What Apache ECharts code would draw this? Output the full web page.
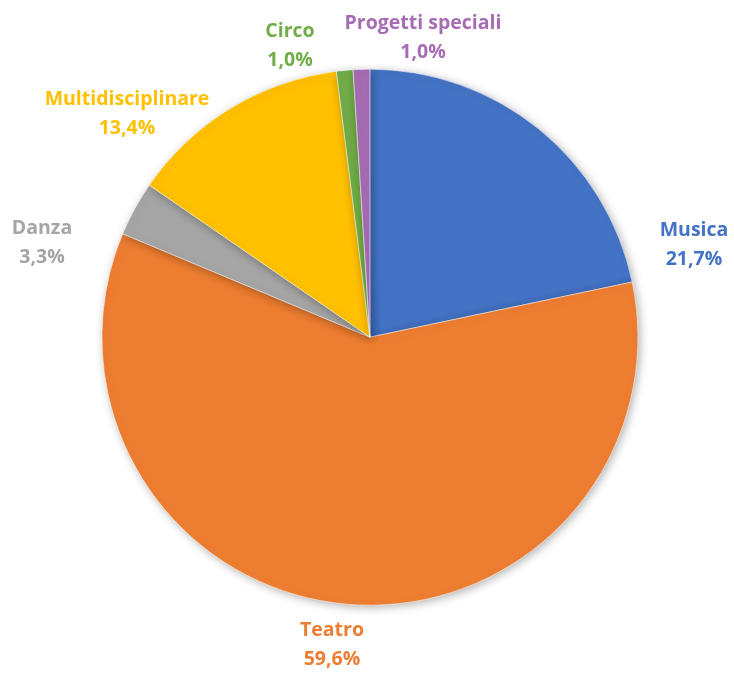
<!DOCTYPE html>
<html>
<head>
<meta charset="utf-8">
<script src="https://cdn.jsdelivr.net/npm/echarts@6/dist/echarts.min.js"></script>
<style>
  html, body { margin: 0; padding: 0; background: #fff; }
  #chart { width: 734px; height: 673px; }
</style>
</head>
<body>
<div id="chart"></div>
<script>
// dati (percentuali per settore)
var categorie = ['Musica', 'Teatro', 'Danza', 'Multidisciplinare', 'Circo', 'Progetti speciali'];
var valori = [21.7, 59.6, 3.3, 13.4, 1.0, 1.0];
var colori = ['#4472C4', '#ED7D31', '#A5A5A5', '#FFC000', '#70AD47', '#A66CB4'];

// posizione delle etichette (centro del blocco di testo), come nel grafico Excel
var posEtichette = [[694, 245], [332, 645], [42, 243], [127, 114], [290, 46], [423, 38]];

var myChart = echarts.init(document.getElementById('chart'));

var dati = categorie.map(function (nome, i) {
    return {
        name: nome,
        value: valori[i],
        itemStyle: { color: colori[i] },
        label: { color: colori[i] }
    };
});

var option = {
    animation: false,
    series: [{
        type: 'pie',
        center: ['50.4%', '50.1%'],
        radius: 268,
        startAngle: 90,
        clockwise: true,
        data: dati,
        itemStyle: {
            borderColor: '#fff',
            borderWidth: 0.5,
            shadowBlur: 10,
            shadowColor: 'rgba(0,0,0,0.3)',
            shadowOffsetX: 2,
            shadowOffsetY: 2
        },
        label: {
            position: 'outside',
            fontFamily: 'Open Sans',
            fontWeight: 'bold',
            fontSize: 19.5,
            lineHeight: 29,
            align: 'center',
            overflow: 'none',
            formatter: function (p) {
                return p.name + '\n' + p.value.toFixed(1).replace('.', ',') + '%';
            }
        },
        labelLine: { show: false },
        labelLayout: function (p) {
            var pos = posEtichette[p.dataIndex];
            return { x: pos[0], y: pos[1], align: 'center', verticalAlign: 'middle' };
        }
    }]
};
myChart.setOption(option);
</script>
</body>
</html>
